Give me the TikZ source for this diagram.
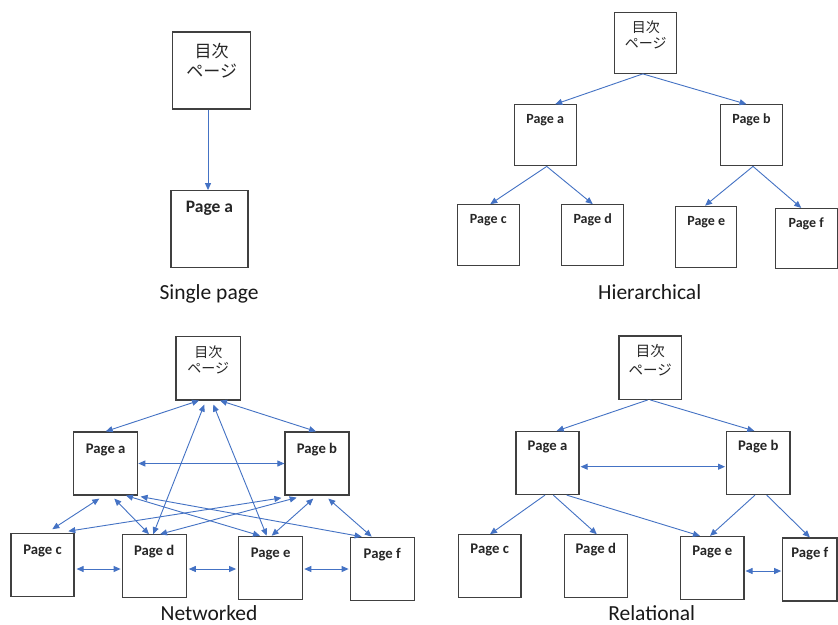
\documentclass[tikz,border=0pt]{standalone}
\usepackage{fontspec}
\setmainfont{Carlito}
\newfontfamily\cjk{Noto Sans CJK JP}
\usetikzlibrary{arrows.meta}
\definecolor{boxc}{HTML}{404040}
\definecolor{arrc}{HTML}{4472C4}
\definecolor{txtc}{HTML}{262626}
\begin{document}
\begin{tikzpicture}[x=1pt,y=-1pt,
  bx/.style={draw=boxc, line width=1.2pt, inner sep=0pt, text=txtc},
  pgS/.style={bx, minimum width=77pt, text height=22pt, text depth=55pt, font=\fontsize{17.5}{20}\selectfont\bfseries},
  pgH/.style={bx, minimum width=62pt, text height=19pt, text depth=42pt, font=\fontsize{14}{17}\selectfont\bfseries},
  pgN/.style={bx, minimum width=64pt, text height=21pt, text depth=42pt, font=\fontsize{14.7}{17}\selectfont\bfseries},
  pgR/.style={bx, minimum width=63pt, text height=19pt, text depth=44pt, font=\fontsize{14.7}{17}\selectfont\bfseries},
  tt/.style={text=black!85, align=center, inner sep=0pt},
  ttl/.style={font=\fontsize{21.5}{24}\selectfont, text=black!90, anchor=base, inner sep=0pt},
  arr/.style={draw=arrc, line width=0.9pt, -{Triangle[length=7pt,width=6pt]}},
  darr/.style={draw=arrc, line width=0.9pt, {Triangle[length=7pt,width=6pt]}-{Triangle[length=7pt,width=6pt]}},
]
\useasboundingbox[fill=white] (0,0) rectangle (838,624);

% ---------------- Single page ----------------
\node[bx, minimum width=78pt, minimum height=77pt] (st) at (211.7,70.5) {};
\node[tt, font=\cjk\fontsize{17}{20}\selectfont] (stx) at (211.7,60.5) {目次\\ページ};
\node[pgS] (sa) at (209.5,229.2) {Page a};
\draw[arr] ([xshift=-3.7pt]st.south) -- ([xshift=-1.5pt]sa.north);
\node[ttl] (st1) at (209,299) {Single page};

% ---------------- Hierarchical ----------------
\node[bx, minimum width=62pt, minimum height=61pt] (ht) at (645.8,42.8) {};
\node[tt, font=\cjk\fontsize{14}{16.7}\selectfont] (htx) at (645.8,35) {目次\\ページ};
\node[pgH] (ha) at (545.2,135.3) {Page a};
\node[pgH] (hb) at (751.5,135.3) {Page b};
\node[pgH] (hc) at (488.3,235.2) {Page c};
\node[pgH] (hd) at (592.7,235.2) {Page d};
\node[pgH, minimum width=61pt] (he) at (706.3,236.8) {Page e};
\node[pgH, text depth=41pt] (hf) at (806.2,238.5) {Page f};
\draw[arr] ([xshift=-3pt]ht.south) -- ([xshift=10pt]ha.north);
\draw[arr] ([xshift=-3pt]ht.south) -- ([xshift=-5pt]hb.north);
\draw[arr] ([xshift=1.5pt]ha.south) -- ([xshift=2pt]hc.north);
\draw[arr] ([xshift=1.5pt]ha.south) -- (hd.north);
\draw[arr] ([xshift=1.5pt]hb.south) -- ([xshift=-1.3pt]he.north);
\draw[arr] ([xshift=1.5pt]hb.south) -- ([xshift=-5pt]hf.north);
\node[ttl] (ht1) at (649.7,299) {Hierarchical};

% ---------------- Networked ----------------
\node[bx, minimum width=64.7pt, minimum height=63.3pt] (nt) at (208.3,368.3) {};
\node[tt, font=\cjk\fontsize{14}{16.7}\selectfont] (ntx) at (208.3,360) {目次\\ページ};
\node[pgN] (na) at (105.7,463.5) {Page a};
\node[pgN] (nb) at (317,463.5) {Page b};
\node[pgN, minimum width=63pt] (nc) at (42.5,565.3) {Page c};
\node[pgN] (nd) at (154.2,566.3) {Page d};
\node[pgN] (ne) at (270.7,567.8) {Page e};
\node[pgN] (nf) at (382.2,568.8) {Page f};
\draw[darr] ([xshift=-9.3pt]nt.south) -- (na.north);
\draw[darr] ([xshift=11.7pt]nt.south) -- ([xshift=-1pt]nb.north);
\draw[darr] ([xshift=-4pt,yshift=-4pt]nt.south) -- ([xshift=-1pt]nd.north);
\draw[darr] ([xshift=5pt,yshift=-4pt]nt.south) -- ([xshift=-4pt]ne.north);
\draw[darr] (na.east) -- (nb.west);
\draw[darr] ([xshift=-6.4pt,yshift=-3pt]na.south) -- ([xshift=9.8pt,yshift=4pt]nc.north);
\draw[darr] ([xshift=8.6pt,yshift=-3pt]na.south) -- ([xshift=-5.2pt]nd.north);
\draw[darr] ([xshift=20.3pt]na.south) -- ([xshift=-10.7pt]ne.north);
\draw[darr] ([xshift=2.3pt,yshift=-1pt]na.south east) -- ([xshift=-20.5pt]nf.north);
\draw[darr] ([xshift=-3pt,yshift=-2.3pt]nb.south west) -- ([xshift=25.8pt,yshift=2pt]nc.north);
\draw[darr] ([xshift=-20.3pt,yshift=-2pt]nb.south) -- ([xshift=5.8pt]nd.north);
\draw[darr] ([xshift=-3.7pt,yshift=-3pt]nb.south) -- ([xshift=1pt]ne.north);
\draw[darr] ([xshift=11.3pt,yshift=-3pt]nb.south) -- ([xshift=-10.5pt]nf.north);
\draw[darr, shorten <=2pt, shorten >=1pt] ([yshift=-3.7pt]nc.east) -- ([yshift=-2.7pt]nd.west);
\draw[darr, shorten <=2pt, shorten >=2pt] ([yshift=-2.7pt]nd.east) -- ([yshift=-1.2pt]ne.west);
\draw[darr, shorten <=1pt, shorten >=1pt] ([yshift=-1.2pt]ne.east) -- ([yshift=-0.2pt]nf.west);
\node[ttl] (nt1) at (209,620) {Networked};

% ---------------- Relational ----------------
\node[bx, minimum width=62.7pt, minimum height=63.3pt] (rt) at (650.3,367.7) {};
\node[tt, font=\cjk\fontsize{14.5}{18.6}\selectfont] (rtx) at (650.3,360) {目次\\ページ};
\node[pgR] (ra) at (547.5,463) {Page a};
\node[pgR, minimum width=63.3pt] (rb) at (758.3,463) {Page b};
\node[pgR, minimum width=62.7pt] (rc) at (489.7,566.3) {Page c};
\node[pgR] (rd) at (595.8,566.3) {Page d};
\node[pgR, minimum width=63.3pt] (re) at (712.3,568) {Page e};
\node[pgR, minimum width=54.3pt] (rf) at (809.9,569.5) {Page f};
\draw[arr] ([xshift=-2.6pt]rt.south) -- ([xshift=9.2pt]ra.north);
\draw[arr] (rt.south) -- ([xshift=-4pt]rb.north);
\draw[darr, shorten <=1pt, shorten >=1pt] ([yshift=-3.7pt]ra.east) -- ([yshift=-3.7pt]rb.west);
\draw[arr] ([xshift=-2.5pt]ra.south) -- ([xshift=0.3pt]rc.north);
\draw[arr] ([xshift=5.8pt]ra.south) -- ([xshift=1pt]rd.north);
\draw[arr] ([xshift=19.2pt]ra.south) -- ([xshift=-12.3pt]re.north);
\draw[arr] ([xshift=-3.3pt]rb.south) -- ([xshift=-2.3pt]re.north);
\draw[arr] ([xshift=8.4pt]rb.south) -- (rf.north);
\draw[darr, shorten <=1pt, shorten >=1pt] ([yshift=-3pt]re.east) -- ([yshift=-1.5pt]rf.west);
\node[ttl] (rt1) at (651.7,620) {Relational};
\end{tikzpicture}
\end{document}
